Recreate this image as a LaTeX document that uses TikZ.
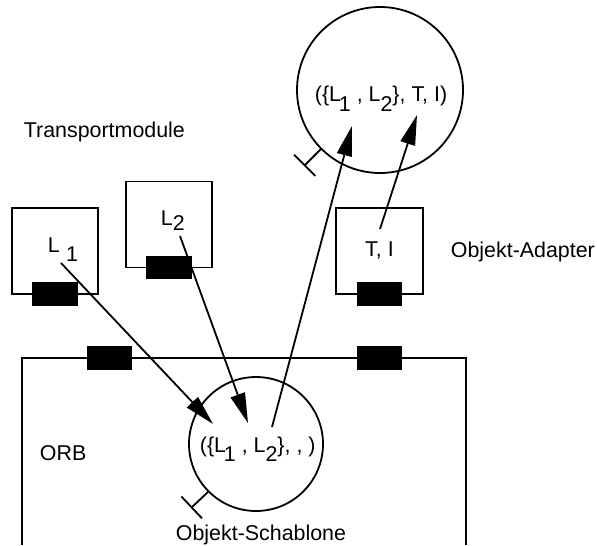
\documentclass[tikz,border=0pt]{standalone}
\usepackage{fontspec}
\setmainfont{Liberation Sans}
\usetikzlibrary{positioning,arrows.meta,shapes.geometric,calc}
\tikzset{
  flow/.style={-{Triangle[length=15pt,width=7.5pt]}, line width=0.9pt, draw=black},
  every node/.style={anchor=center}
}
\newcommand{\lowdigit}[1]{\raisebox{-0.45em}{#1}}

\begin{document}
\begin{tikzpicture}[
    x=0.5pt, y=-0.5pt,
    font=\fontsize{10.7}{12.8}\selectfont,
    line width=0.9pt,
    txt/.style={anchor=base west, inner sep=0pt},
    module/.style={draw, rectangle, inner sep=0pt, outer sep=0pt, minimum width=43pt, minimum height=43pt},
    plug/.style={draw, fill=black, rectangle, inner sep=0pt, minimum width=22pt, minimum height=11pt},
    obj/.style={draw, circle, inner sep=0pt, outer sep=0pt},
    tee/.style={-{Bar[width=15pt]}, line width=0.9pt}
  ]
  \useasboundingbox (0,0) rectangle (597,545);

  % transport modules and object adapter
  \node[module] (modl1) at (55,251) {};
  \node[module] (modl2) at (169,224.5) {};
  \node[module, minimum width=43.5pt] (adapter) at (379.5,251) {T, I};
  \node[plug] (plugl1) at (modl1.south) {};
  \node[plug] (plugl2) at (modl2.south) {};
  \node[plug] (plugad) at (adapter.south) {};
  \node[txt] (lblone) at (47,252) {L\hspace{0.3em}\lowdigit{1}};
  \node[txt] (lbltwo) at (160,225) {L\raisebox{-0.25em}{2}};

  % ORB frame
  \coordinate (orbLB) at (22,545);
  \coordinate (orbLT) at (22,358);
  \coordinate (orbRT) at (466,358);
  \coordinate (orbRB) at (466,545);
  \draw (orbLB) -- (orbLT) -- (orbRT) -- (orbRB);
  \node[plug] (plugorba) at (109.5,358) {};
  \node[plug] (plugorbb) at (379.5,358) {};

  % objects
  \node[obj, minimum size=83pt] (adobj) at (380,90) {};
  \node[obj, minimum size=67pt] (tmpl) at (256,444) {};
  \node[txt] (adtext) at (314,102) {(\{L\kern-0.1em\lowdigit{1} , L\lowdigit{2}\}, T, I)};
  \node[txt] (tmpltext) at (199,452) {(\{L\kern-0.1em\lowdigit{1} , L\lowdigit{2}\}, , )};

  % labels
  \node[txt] (transp) at (23,138) {Transportmodule};
  \node[txt] (orb) at (39,460) {ORB};
  \node[txt] (adlbl) at (450,257) {Objekt-Adapter};
  \node[txt] (tmpllbl) at (175,540) {Objekt-Schablone};

  % arrows
  \coordinate (srcl1) at (61,263);
  \coordinate (srcl2) at (180,236);
  \coordinate (srcad) at (380,229);
  \coordinate (srctm) at (272,427);
  \coordinate (dstl1) at (213,424);
  \coordinate (dstl2) at (248,423);
  \coordinate (dsttm) at (352,126);
  \coordinate (dstad) at (417,115);
  \draw[flow] (srcl1) -- (dstl1);
  \draw[flow] (srcl2) -- (dstl2);
  \draw[flow] (srctm) -- (dsttm);
  \draw[flow] (srcad) -- (dstad);

  % interface stubs
  \coordinate (adstub) at (304,166);
  \coordinate (tmstub) at (191,508);
  \draw[tee] (adobj.225) -- (adstub);
  \draw[tee] (tmpl.225) -- (tmstub);

\end{tikzpicture}
\end{document}
